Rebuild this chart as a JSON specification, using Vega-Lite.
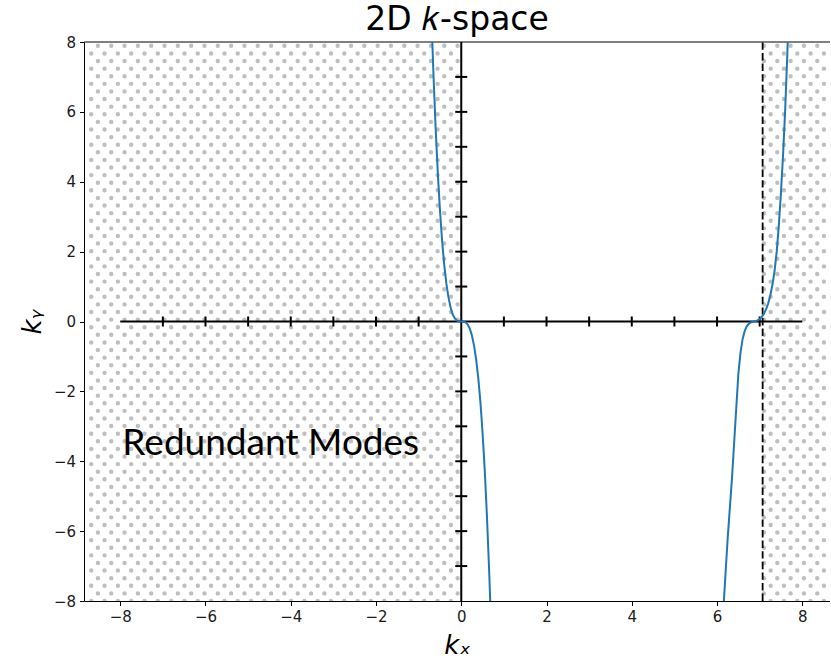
{
  "$schema": "https://vega.github.io/schema/vega-lite/v6.json",
  "width": 746,
  "height": 559,
  "autosize": {"type": "none"},
  "padding": {"left": 84, "top": 42, "right": 0, "bottom": 65},
  "background": "white",
  "title": {"text": "2D 𝑘-space", "font": "DejaVu Sans", "fontSize": 33, "fontWeight": "normal", "color": "black", "anchor": "middle", "offset": -2},
  "datasets": {
    "hatch": [
      {"x": -8.68, "p": 0}, {"x": -8.524, "p": 1}, {"x": -8.368, "p": 0}, {"x": -8.211, "p": 1},
      {"x": -8.055, "p": 0}, {"x": -7.899, "p": 1}, {"x": -7.743, "p": 0}, {"x": -7.586, "p": 1},
      {"x": -7.43, "p": 0}, {"x": -7.274, "p": 1}, {"x": -7.118, "p": 0}, {"x": -6.961, "p": 1},
      {"x": -6.805, "p": 0}, {"x": -6.649, "p": 1}, {"x": -6.493, "p": 0}, {"x": -6.336, "p": 1},
      {"x": -6.18, "p": 0}, {"x": -6.024, "p": 1}, {"x": -5.868, "p": 0}, {"x": -5.711, "p": 1},
      {"x": -5.555, "p": 0}, {"x": -5.399, "p": 1}, {"x": -5.243, "p": 0}, {"x": -5.086, "p": 1},
      {"x": -4.93, "p": 0}, {"x": -4.774, "p": 1}, {"x": -4.618, "p": 0}, {"x": -4.461, "p": 1},
      {"x": -4.305, "p": 0}, {"x": -4.149, "p": 1}, {"x": -3.993, "p": 0}, {"x": -3.836, "p": 1},
      {"x": -3.68, "p": 0}, {"x": -3.524, "p": 1}, {"x": -3.368, "p": 0}, {"x": -3.211, "p": 1},
      {"x": -3.055, "p": 0}, {"x": -2.899, "p": 1}, {"x": -2.743, "p": 0}, {"x": -2.586, "p": 1},
      {"x": -2.43, "p": 0}, {"x": -2.274, "p": 1}, {"x": -2.118, "p": 0}, {"x": -1.961, "p": 1},
      {"x": -1.805, "p": 0}, {"x": -1.649, "p": 1}, {"x": -1.493, "p": 0}, {"x": -1.336, "p": 1},
      {"x": -1.18, "p": 0}, {"x": -1.024, "p": 1}, {"x": -0.868, "p": 0}, {"x": -0.711, "p": 1},
      {"x": -0.555, "p": 0}, {"x": -0.399, "p": 1}, {"x": -0.243, "p": 0}, {"x": -0.086, "p": 1},
      {"x": 7.101, "p": 1}, {"x": 7.258, "p": 0}, {"x": 7.414, "p": 1}, {"x": 7.57, "p": 0},
      {"x": 7.726, "p": 1}, {"x": 7.883, "p": 0}, {"x": 8.039, "p": 1}, {"x": 8.195, "p": 0},
      {"x": 8.351, "p": 1}, {"x": 8.508, "p": 0}
    ],
    "curve": [
      {"b": "a", "x": -0.68, "y": 8.02}, {"b": "a", "x": -0.65, "y": 7.0}, {"b": "a", "x": -0.6, "y": 5.51},
      {"b": "a", "x": -0.55, "y": 4.24}, {"b": "a", "x": -0.5, "y": 3.19}, {"b": "a", "x": -0.45, "y": 2.32},
      {"b": "a", "x": -0.4, "y": 1.63}, {"b": "a", "x": -0.35, "y": 1.09}, {"b": "a", "x": -0.3, "y": 0.69},
      {"b": "a", "x": -0.25, "y": 0.4}, {"b": "a", "x": -0.2, "y": 0.2}, {"b": "a", "x": -0.15, "y": 0.086},
      {"b": "a", "x": -0.1, "y": 0.026}, {"b": "a", "x": -0.05, "y": 0.003}, {"b": "a", "x": 0, "y": 0},
      {"b": "a", "x": 0.05, "y": -0.003}, {"b": "a", "x": 0.1, "y": -0.026}, {"b": "a", "x": 0.15, "y": -0.086},
      {"b": "a", "x": 0.2, "y": -0.2}, {"b": "a", "x": 0.25, "y": -0.4}, {"b": "a", "x": 0.3, "y": -0.69},
      {"b": "a", "x": 0.35, "y": -1.09}, {"b": "a", "x": 0.4, "y": -1.63}, {"b": "a", "x": 0.45, "y": -2.32},
      {"b": "a", "x": 0.5, "y": -3.19}, {"b": "a", "x": 0.55, "y": -4.24}, {"b": "a", "x": 0.6, "y": -5.51},
      {"b": "a", "x": 0.65, "y": -7.0}, {"b": "a", "x": 0.68, "y": -8.02},
      {"b": "b", "x": 6.16, "y": -8.0}, {"b": "b", "x": 6.2, "y": -7.2}, {"b": "b", "x": 6.25, "y": -6.2},
      {"b": "b", "x": 6.3, "y": -5.35}, {"b": "b", "x": 6.35, "y": -4.5}, {"b": "b", "x": 6.4, "y": -3.5},
      {"b": "b", "x": 6.45, "y": -2.5}, {"b": "b", "x": 6.5, "y": -1.5}, {"b": "b", "x": 6.55, "y": -0.9},
      {"b": "b", "x": 6.6, "y": -0.5}, {"b": "b", "x": 6.65, "y": -0.27}, {"b": "b", "x": 6.7, "y": -0.13},
      {"b": "b", "x": 6.75, "y": -0.06}, {"b": "b", "x": 6.8, "y": -0.02}, {"b": "b", "x": 6.87, "y": 0},
      {"b": "b", "x": 6.9, "y": 0.005}, {"b": "b", "x": 6.95, "y": 0.03}, {"b": "b", "x": 7.0, "y": 0.07},
      {"b": "b", "x": 7.05, "y": 0.13}, {"b": "b", "x": 7.1, "y": 0.22}, {"b": "b", "x": 7.15, "y": 0.35},
      {"b": "b", "x": 7.2, "y": 0.52}, {"b": "b", "x": 7.25, "y": 0.75}, {"b": "b", "x": 7.3, "y": 1.05},
      {"b": "b", "x": 7.35, "y": 1.45}, {"b": "b", "x": 7.4, "y": 2.0}, {"b": "b", "x": 7.45, "y": 2.75},
      {"b": "b", "x": 7.5, "y": 3.7}, {"b": "b", "x": 7.55, "y": 4.8}, {"b": "b", "x": 7.6, "y": 6.1},
      {"b": "b", "x": 7.65, "y": 7.7}, {"b": "b", "x": 7.7, "y": 9.5}
    ],
    "ticks": [
      {"v": -7}, {"v": -6}, {"v": -5}, {"v": -4}, {"v": -3}, {"v": -2}, {"v": -1},
      {"v": 1}, {"v": 2}, {"v": 3}, {"v": 4}, {"v": 5}, {"v": 6}, {"v": 7}
    ],
    "notes": [{"label": "Redundant Modes", "x": -7.95, "y": -3.5}]
  },
  "layer": [
    {
      "data": {"name": "hatch"},
      "transform": [{"filter": "datum.p == 0"}],
      "mark": {"type": "rule", "color": "#bfbfbf", "strokeWidth": 4.4, "strokeCap": "round", "strokeDash": [0.01, 15.2], "strokeDashOffset": 0, "clip": true},
      "encoding": {
        "x": {"field": "x", "type": "quantitative", "scale": {"domain": [-8.85, 8.65], "nice": false, "zero": false},
              "axis": {"values": [-8, -6, -4, -2, 0, 2, 4, 6, 8], "title": "kₓ", "titlePadding": 8}},
        "y": {"datum": -8, "type": "quantitative", "scale": {"domain": [-8, 8], "nice": false, "zero": false},
              "axis": {"values": [-8, -6, -4, -2, 0, 2, 4, 6, 8], "title": "kᵧ", "titlePadding": 8}},
        "y2": {"datum": 8}
      }
    },
    {
      "data": {"name": "hatch"},
      "transform": [{"filter": "datum.p == 1"}],
      "mark": {"type": "rule", "color": "#bfbfbf", "strokeWidth": 4.4, "strokeCap": "round", "strokeDash": [0.01, 15.2], "strokeDashOffset": 7.6, "clip": true},
      "encoding": {
        "x": {"field": "x", "type": "quantitative"},
        "y": {"datum": -8, "type": "quantitative"},
        "y2": {"datum": 8}
      }
    },
    {
      "data": {"values": [{}]},
      "mark": {"type": "rule", "color": "black", "strokeWidth": 1},
      "encoding": {"y": {"datum": 8, "type": "quantitative"}}
    },
    {
      "data": {"values": [{}]},
      "mark": {"type": "rule", "color": "black", "strokeWidth": 2},
      "encoding": {"x": {"datum": -8, "type": "quantitative"}, "x2": {"datum": 8}, "y": {"datum": 0, "type": "quantitative"}}
    },
    {
      "data": {"values": [{}]},
      "mark": {"type": "rule", "color": "black", "strokeWidth": 2},
      "encoding": {"x": {"datum": 0, "type": "quantitative"}, "y": {"datum": -8, "type": "quantitative"}, "y2": {"datum": 8}}
    },
    {
      "data": {"name": "ticks"},
      "mark": {"type": "tick", "orient": "vertical", "size": 10, "thickness": 2, "color": "black", "opacity": 1},
      "encoding": {"x": {"field": "v", "type": "quantitative"}, "y": {"datum": 0, "type": "quantitative"}}
    },
    {
      "data": {"name": "ticks"},
      "mark": {"type": "tick", "orient": "horizontal", "size": 12, "thickness": 2, "color": "black", "opacity": 1},
      "encoding": {"x": {"datum": 0, "type": "quantitative"}, "y": {"field": "v", "type": "quantitative"}}
    },
    {
      "data": {"values": [{}]},
      "mark": {"type": "rule", "color": "black", "strokeWidth": 1.8, "strokeDash": [7.4, 3.2]},
      "encoding": {"x": {"datum": 7.07, "type": "quantitative"}, "y": {"datum": -8, "type": "quantitative"}, "y2": {"datum": 8}}
    },
    {
      "data": {"name": "curve"},
      "mark": {"type": "line", "color": "#1f77b4", "strokeWidth": 2, "clip": true},
      "encoding": {
        "x": {"field": "x", "type": "quantitative"},
        "y": {"field": "y", "type": "quantitative"},
        "detail": {"field": "b"}
      }
    },
    {
      "data": {"name": "notes"},
      "mark": {"type": "text", "font": "Lato", "fontSize": 37, "align": "left", "baseline": "middle", "color": "black"},
      "encoding": {
        "x": {"field": "x", "type": "quantitative"},
        "y": {"field": "y", "type": "quantitative"},
        "text": {"field": "label"}
      }
    }
  ],
  "config": {
    "view": {"stroke": null},
    "axis": {
      "grid": false,
      "domainColor": "black",
      "domainWidth": 1,
      "tickColor": "black",
      "tickWidth": 1,
      "tickSize": 4.5,
      "labelColor": "#1a1a1a",
      "labelFont": "DejaVu Sans",
      "labelFontSize": 15,
      "labelPadding": 4,
      "titleFont": "DejaVu Sans",
      "titleFontStyle": "italic",
      "titleFontWeight": "normal",
      "titleFontSize": 26,
      "titleColor": "black"
    }
  }
}
